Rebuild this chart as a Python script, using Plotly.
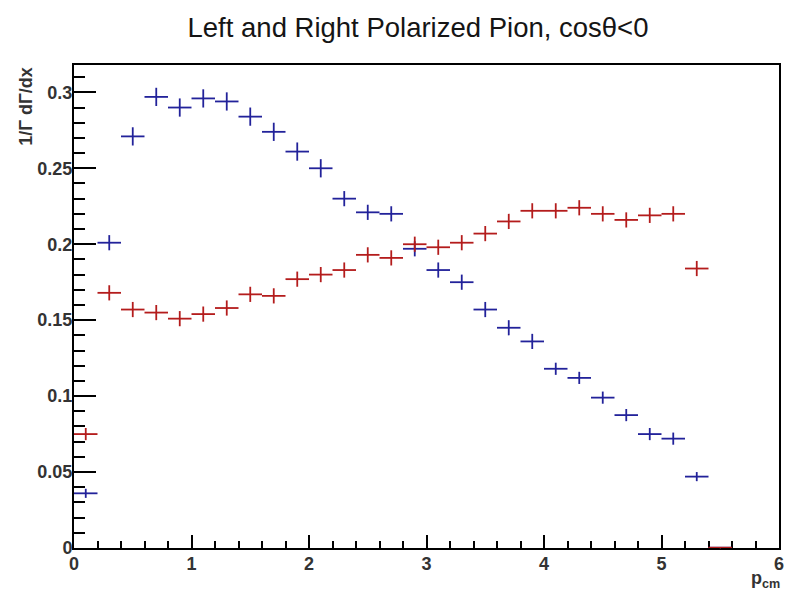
import plotly.graph_objects as go

# bin centres (bin width 0.2)
p_cm = [0.1, 0.3, 0.5, 0.7, 0.9, 1.1, 1.3, 1.5, 1.7, 1.9, 2.1, 2.3, 2.5, 2.7,
        2.9, 3.1, 3.3, 3.5, 3.7, 3.9, 4.1, 4.3, 4.5, 4.7, 4.9, 5.1, 5.3, 5.5]
half_bin = 0.1

left_vals = [0.036, 0.201, 0.271, 0.297, 0.290, 0.296, 0.294, 0.284, 0.274, 0.261,
             0.250, 0.230, 0.221, 0.220, 0.197, 0.183, 0.175, 0.157, 0.145, 0.136,
             0.118, 0.112, 0.099, 0.0875, 0.075, 0.072, 0.047, 0.0]
left_errs = [0.003, 0.005, 0.006, 0.006, 0.006, 0.006, 0.006, 0.006, 0.006, 0.006,
             0.006, 0.005, 0.005, 0.005, 0.005, 0.005, 0.005, 0.005, 0.005, 0.005,
             0.004, 0.004, 0.004, 0.004, 0.004, 0.004, 0.003, 0.0]

right_vals = [0.075, 0.168, 0.157, 0.155, 0.151, 0.154, 0.158, 0.167, 0.166, 0.177,
              0.180, 0.183, 0.193, 0.191, 0.200, 0.198, 0.201, 0.207, 0.215, 0.222,
              0.222, 0.224, 0.220, 0.216, 0.219, 0.220, 0.184, 0.0]
right_errs = [0.004, 0.005, 0.005, 0.005, 0.005, 0.005, 0.005, 0.005, 0.005, 0.005,
              0.005, 0.005, 0.005, 0.005, 0.005, 0.005, 0.005, 0.005, 0.005, 0.005,
              0.005, 0.005, 0.005, 0.005, 0.005, 0.005, 0.005, 0.0]

BLUE = "#22229a"
RED = "#b41c1c"

fig = go.Figure()


def add_hist(vals, errs, color):
    fig.add_trace(go.Scatter(
        x=p_cm, y=vals, mode="markers", cliponaxis=False,
        marker=dict(size=1, color=color),
        error_x=dict(type="constant", value=half_bin, color=color, thickness=1.8, width=0),
        error_y=dict(type="data", array=errs, color=color, thickness=1.8, width=0),
        showlegend=False, hoverinfo="x+y",
    ))
    # bins with zero content sit on the frame: draw their bin-width segment unclipped
    zx, zy = [], []
    for xc, v in zip(p_cm, vals):
        if v == 0:
            zx += [xc - half_bin, xc + half_bin, None]
            zy += [v, v, None]
    if zx:
        fig.add_trace(go.Scatter(
            x=zx, y=zy, mode="lines", cliponaxis=False,
            line=dict(color=color, width=2.4), showlegend=False, hoverinfo="skip",
        ))


add_hist(left_vals, left_errs, BLUE)
add_hist(right_vals, right_errs, RED)

font_family = "Liberation Sans, Arial, sans-serif"
label_font = dict(family=font_family, size=18, color="#333333", weight="bold")

fig.update_layout(
    width=787, height=592,
    margin=dict(l=74, r=3, t=65, b=44),
    paper_bgcolor="white", plot_bgcolor="white",
    title=dict(text="Left and Right Polarized Pion, cosθ<0",
               x=418 / 787, xanchor="center", y=1 - 27 / 592, yanchor="middle",
               font=dict(family=font_family, size=27.5, color="#151515")),
    xaxis=dict(range=[0, 6], tick0=0, dtick=1, ticks="inside", ticklen=13, tickwidth=2,
               tickcolor="black", showline=True, linecolor="black", linewidth=2,
               mirror=True, showgrid=False, zeroline=False, layer="below traces",
               tickfont=label_font, ticklabelstandoff=-2, ticklabeloverflow="allow",
               minor=dict(dtick=0.2, ticks="inside", ticklen=7, tickwidth=1.8,
                          tickcolor="black", showgrid=False)),
    yaxis=dict(range=[0, 0.318], tick0=0, dtick=0.05, ticks="inside", ticklen=22, tickwidth=2,
               tickcolor="black", showline=True, linecolor="black", linewidth=2,
               mirror=True, showgrid=False, zeroline=False, layer="below traces",
               tickfont=label_font, ticklabelstandoff=-4, ticklabeloverflow="allow",
               minor=dict(dtick=0.01, ticks="inside", ticklen=11, tickwidth=1.8,
                          tickcolor="black", showgrid=False)),
    annotations=[
        dict(text="1/Γ dΓ/dx", textangle=-90, xref="paper", yref="paper",
             x=(25 - 74) / 710, y=1, xanchor="center", yanchor="top",
             showarrow=False, font=dict(family=font_family, size=18, color="#333333",
                                        weight="bold")),
        dict(text="p<sub>cm</sub>", xref="paper", yref="paper",
             x=(754 - 74) / 710, y=-(566 - 548) / 483, xanchor="left", yanchor="top",
             showarrow=False, font=dict(family=font_family, size=18, color="#333333",
                                        weight="bold")),
    ],
)

fig.write_html("out.html")
